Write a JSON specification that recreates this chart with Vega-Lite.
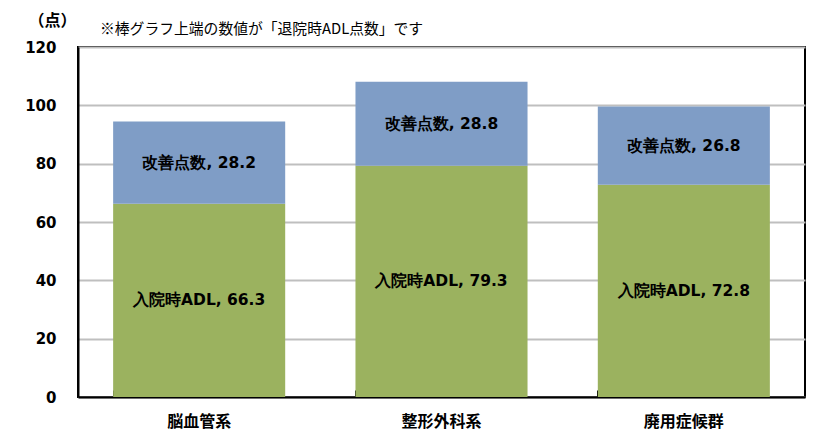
{
  "$schema": "https://vega.github.io/schema/vega-lite/v6.json",
  "autosize": "none",
  "padding": {"left": 78, "top": 47, "right": 24, "bottom": 48},
  "width": 727,
  "height": 350,
  "background": "white",
  "view": {"stroke": "black", "strokeWidth": 2},
  "title": {
    "text": "※棒グラフ上端の数値が「退院時ADL点数」です",
    "anchor": "start",
    "frame": "group",
    "dx": 22,
    "offset": -25,
    "font": "Noto Sans CJK JP",
    "fontSize": 14.8,
    "fontWeight": "normal",
    "color": "black"
  },
  "data": {
    "values": [
      {"cat": "脳血管系", "segment": "入院時ADL", "order": 1, "value": 66.3, "label": "入院時ADL, 66.3"},
      {"cat": "脳血管系", "segment": "改善点数", "order": 2, "value": 28.2, "label": "改善点数, 28.2"},
      {"cat": "整形外科系", "segment": "入院時ADL", "order": 1, "value": 79.3, "label": "入院時ADL, 79.3"},
      {"cat": "整形外科系", "segment": "改善点数", "order": 2, "value": 28.8, "label": "改善点数, 28.8"},
      {"cat": "廃用症候群", "segment": "入院時ADL", "order": 1, "value": 72.8, "label": "入院時ADL, 72.8"},
      {"cat": "廃用症候群", "segment": "改善点数", "order": 2, "value": 26.8, "label": "改善点数, 26.8"}
    ]
  },
  "transform": [
    {"stack": "value", "groupby": ["cat"], "sort": [{"field": "order"}], "as": ["v0", "v1"]},
    {"calculate": "(datum.v0 + datum.v1) / 2", "as": "mid"}
  ],
  "encoding": {
    "x": {
      "field": "cat",
      "type": "nominal",
      "sort": ["脳血管系", "整形外科系", "廃用症候群"],
      "scale": {"paddingInner": 0.29, "paddingOuter": 0.145},
      "axis": {
        "title": null,
        "labelAngle": 0,
        "labelFont": "Noto Sans CJK JP",
        "labelFontSize": 16,
        "labelFontWeight": "bold",
        "labelColor": "black",
        "labelPadding": 23,
        "domainColor": "black",
        "domainWidth": 2,
        "bandPosition": 0,
        "tickColor": "black",
        "tickSize": -7,
        "tickWidth": 1
      }
    }
  },
  "layer": [
    {
      "mark": {"type": "bar"},
      "encoding": {
        "y": {
          "field": "v0",
          "type": "quantitative",
          "scale": {"domain": [0, 120]},
          "axis": {
            "values": [0, 20, 40, 60, 80, 100, 120],
            "title": "（点）",
            "titleAngle": 0,
            "titleX": -26,
            "titleY": -27,
            "titleAlign": "center",
            "titleBaseline": "middle",
            "titleFont": "Noto Sans CJK JP",
            "titleFontSize": 16,
            "titleFontWeight": "bold",
            "titleColor": "black",
            "labelFont": "DejaVu Sans",
            "labelFontSize": 15,
            "labelFontWeight": "bold",
            "labelColor": "black",
            "labelPadding": 22,
            "ticks": false,
            "domainColor": "black",
            "domainWidth": 2,
            "gridColor": "#BFBFBF",
            "gridWidth": 2
          }
        },
        "y2": {"field": "v1"},
        "color": {
          "field": "segment",
          "type": "nominal",
          "scale": {"domain": ["入院時ADL", "改善点数"], "range": ["#9BB25F", "#7F9DC6"]},
          "legend": null
        }
      }
    },
    {
      "mark": {"type": "text", "font": "DejaVu Sans", "fontSize": 15.5, "fontWeight": "bold", "color": "black"},
      "encoding": {
        "y": {"field": "mid", "type": "quantitative"},
        "text": {"field": "label"}
      }
    }
  ]
}
